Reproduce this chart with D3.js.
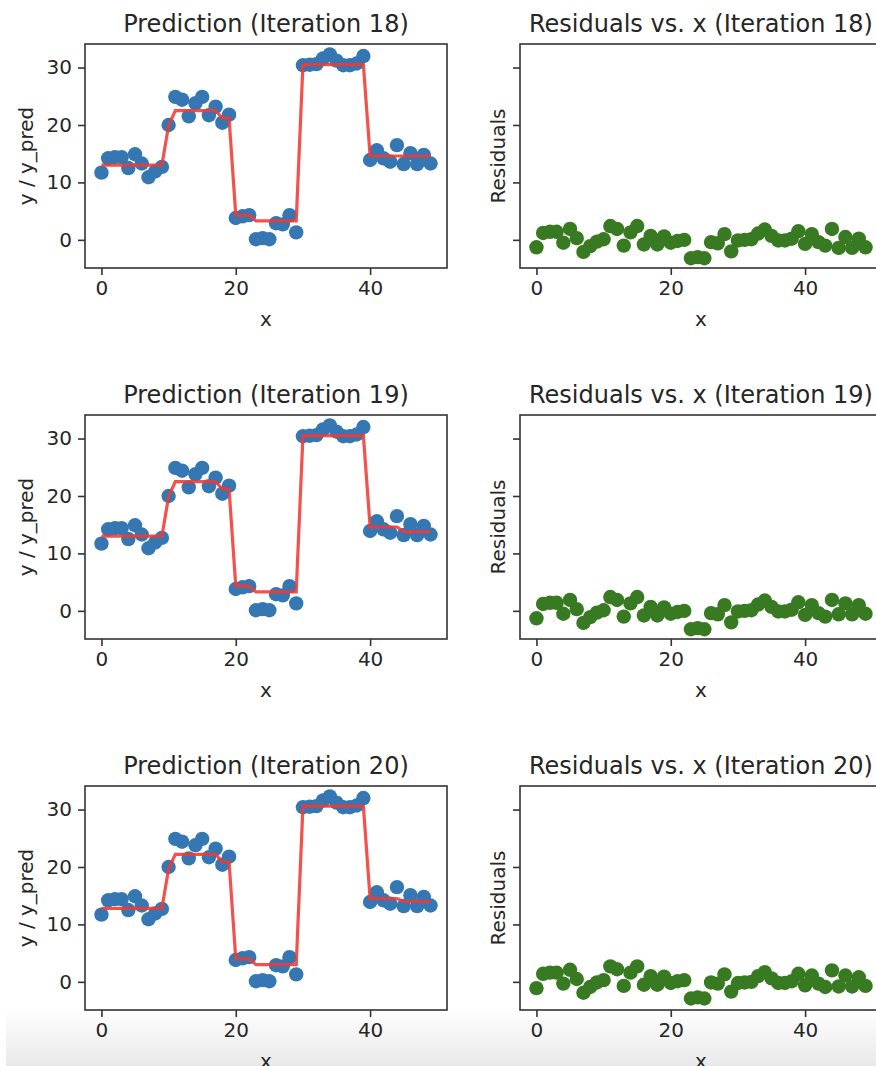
<!DOCTYPE html>
<html>
<head>
<meta charset="utf-8">
<script src="https://cdnjs.cloudflare.com/ajax/libs/d3/7.8.5/d3.min.js"></script>
<style>
  body { margin: 0; background: #fff; }
  svg { display: block; font-family: "DejaVu Sans", sans-serif; }
</style>
</head>
<body>
<div id="chart"></div>
<script>
// observed y for x = 0..49 (same data in every row)
var yObs = [11.7, 14.2, 14.4, 14.4, 12.5, 14.9, 13.3, 10.9, 11.9, 12.7,
            20.0, 24.9, 24.4, 21.5, 23.8, 24.9, 21.7, 23.2, 20.4, 21.8,
            3.8, 4.1, 4.3, 0.1, 0.3, 0.1, 2.9, 2.7, 4.3, 1.3,
            30.4, 30.5, 30.6, 31.6, 32.3, 31.2, 30.4, 30.4, 30.7, 32.0,
            13.9, 15.6, 14.2, 13.6, 16.5, 13.2, 15.1, 13.2, 14.8, 13.3];

// model prediction per iteration
var pred18 = [13.0, 13.0, 13.0, 13.0, 13.0, 13.0, 13.0, 13.0, 13.0, 13.0,
              19.9, 22.5, 22.5, 22.5, 22.5, 22.5, 22.5, 22.5, 21.2, 21.2,
              4.3, 4.3, 4.3, 3.3, 3.3, 3.3, 3.3, 3.3, 3.3, 3.3,
              30.5, 30.5, 30.5, 30.5, 30.5, 30.5, 30.5, 30.5, 30.5, 30.5,
              14.6, 14.6, 14.6, 14.6, 14.6, 14.6, 14.6, 14.6, 14.6, 14.6];
var pred19 = [13.0, 13.0, 13.0, 13.0, 13.0, 13.0, 13.0, 13.0, 13.0, 13.0,
              19.9, 22.5, 22.5, 22.5, 22.5, 22.5, 22.5, 22.5, 21.2, 21.2,
              4.3, 4.3, 4.3, 3.3, 3.3, 3.3, 3.3, 3.3, 3.3, 3.3,
              30.5, 30.5, 30.5, 30.5, 30.5, 30.5, 30.5, 30.5, 30.5, 30.5,
              14.6, 14.6, 14.6, 14.6, 14.6, 13.8, 13.8, 13.8, 13.8, 13.8];
var pred20 = [12.8, 12.8, 12.8, 12.8, 12.8, 12.8, 12.8, 12.8, 12.8, 12.8,
              19.7, 22.2, 22.2, 22.2, 22.2, 22.2, 22.2, 22.2, 20.9, 20.9,
              4.0, 4.0, 4.0, 3.0, 3.0, 3.0, 3.0, 3.0, 3.0, 3.0,
              30.6, 30.6, 30.6, 30.6, 30.6, 30.6, 30.6, 30.6, 30.6, 30.6,
              14.5, 14.5, 14.5, 14.5, 14.5, 14.0, 14.0, 14.0, 14.0, 14.0];

var iterations = [18, 19, 20];
var predictions = [pred18, pred19, pred20];
var xTicks = [0, 20, 40];
var yTicks = [0, 10, 20, 30];

var W = 876, H = 1066;
var axW = 362, axH = 224;
var leftX = 85, rightX = 520;
var rowTop = [44, 415, 786];

var svg = d3.select("#chart")
  .append("svg")
  .attr("width", W)
  .attr("height", H);

// grey fade at the bottom of the screenshot
var grad = svg.append("defs").append("linearGradient")
  .attr("id", "fade")
  .attr("x1", 0).attr("y1", 0).attr("x2", 0).attr("y2", 1);
grad.append("stop").attr("offset", 0).attr("stop-color", "#ffffff");
grad.append("stop").attr("offset", 1).attr("stop-color", "#e9e9e9");
svg.append("rect")
  .attr("x", 6).attr("y", 1008)
  .attr("width", W - 6).attr("height", H - 1008)
  .style("fill", "url(#fade)");

var x = d3.scaleLinear().domain([-2.45, 51.45]).range([0, axW]);
var y = d3.scaleLinear().domain([-4.9, 34.1]).range([axH, 0]);

function drawAxes(g, showYLabels) {
  var xa = g.append("g")
    .attr("transform", "translate(0," + axH + ")")
    .call(d3.axisBottom(x).tickValues(xTicks).tickSize(7).tickPadding(6).tickFormat(d3.format("d")));
  var ya = g.append("g")
    .call(d3.axisLeft(y).tickValues(yTicks).tickSize(7).tickPadding(6)
      .tickFormat(showYLabels ? d3.format("d") : function() { return ""; }));
  [xa, ya].forEach(function(a) {
    a.select(".domain").remove();
    a.selectAll(".tick line").style("stroke", "#333").style("stroke-width", 1.6);
    a.selectAll(".tick text")
      .style("font-size", "20px")
      .style("fill", "#262626")
      .style("font-family", "DejaVu Sans, sans-serif");
  });
  g.append("rect")
    .attr("width", axW)
    .attr("height", axH)
    .style("fill", "none")
    .style("stroke", "#333")
    .style("stroke-width", 1.6);
}

function labels(g, title, ylab, ylabX) {
  g.append("text")
    .attr("x", axW / 2)
    .attr("y", -12)
    .style("text-anchor", "middle")
    .style("font-size", "24px")
    .style("fill", "#262626")
    .text(title);
  g.append("text")
    .attr("x", axW / 2)
    .attr("y", axH + 58)
    .style("text-anchor", "middle")
    .style("font-size", "20px")
    .style("fill", "#262626")
    .text("x");
  g.append("text")
    .attr("transform", "translate(" + ylabX + "," + (axH / 2) + ") rotate(-90)")
    .style("text-anchor", "middle")
    .style("font-size", "20px")
    .style("fill", "#262626")
    .text(ylab);
}

iterations.forEach(function(it, r) {
  var pred = predictions[r];

  // left: data and prediction
  var gl = svg.append("g")
    .attr("transform", "translate(" + leftX + "," + rowTop[r] + ")");
  gl.append("rect").attr("width", axW).attr("height", axH).style("fill", "#fff");
  gl.selectAll("circle")
    .data(yObs)
    .enter().append("circle")
    .attr("cx", function(d, i) { return x(i); })
    .attr("cy", function(d) { return y(d); })
    .attr("r", 7.2)
    .style("fill", "#3477b2");
  gl.append("path")
    .datum(pred)
    .attr("d", d3.line()
      .x(function(d, i) { return x(i); })
      .y(function(d) { return y(d); }))
    .style("fill", "none")
    .style("stroke", "#f03a32")
    .style("stroke-opacity", 0.88)
    .style("stroke-width", 3.2);
  drawAxes(gl, true);
  labels(gl, "Prediction (Iteration " + it + ")", "y / y_pred", -52);

  // right: residuals, y axis shared with the left panel
  var gr = svg.append("g")
    .attr("transform", "translate(" + rightX + "," + rowTop[r] + ")");
  gr.append("rect").attr("width", axW).attr("height", axH).style("fill", "#fff");
  gr.selectAll("circle")
    .data(yObs)
    .enter().append("circle")
    .attr("cx", function(d, i) { return x(i); })
    .attr("cy", function(d, i) { return y(d - pred[i]); })
    .attr("r", 7.2)
    .style("fill", "#387a22");
  drawAxes(gr, false);
  labels(gr, "Residuals vs. x (Iteration " + it + ")", "Residuals", -15);
});
</script>
</body>
</html>
